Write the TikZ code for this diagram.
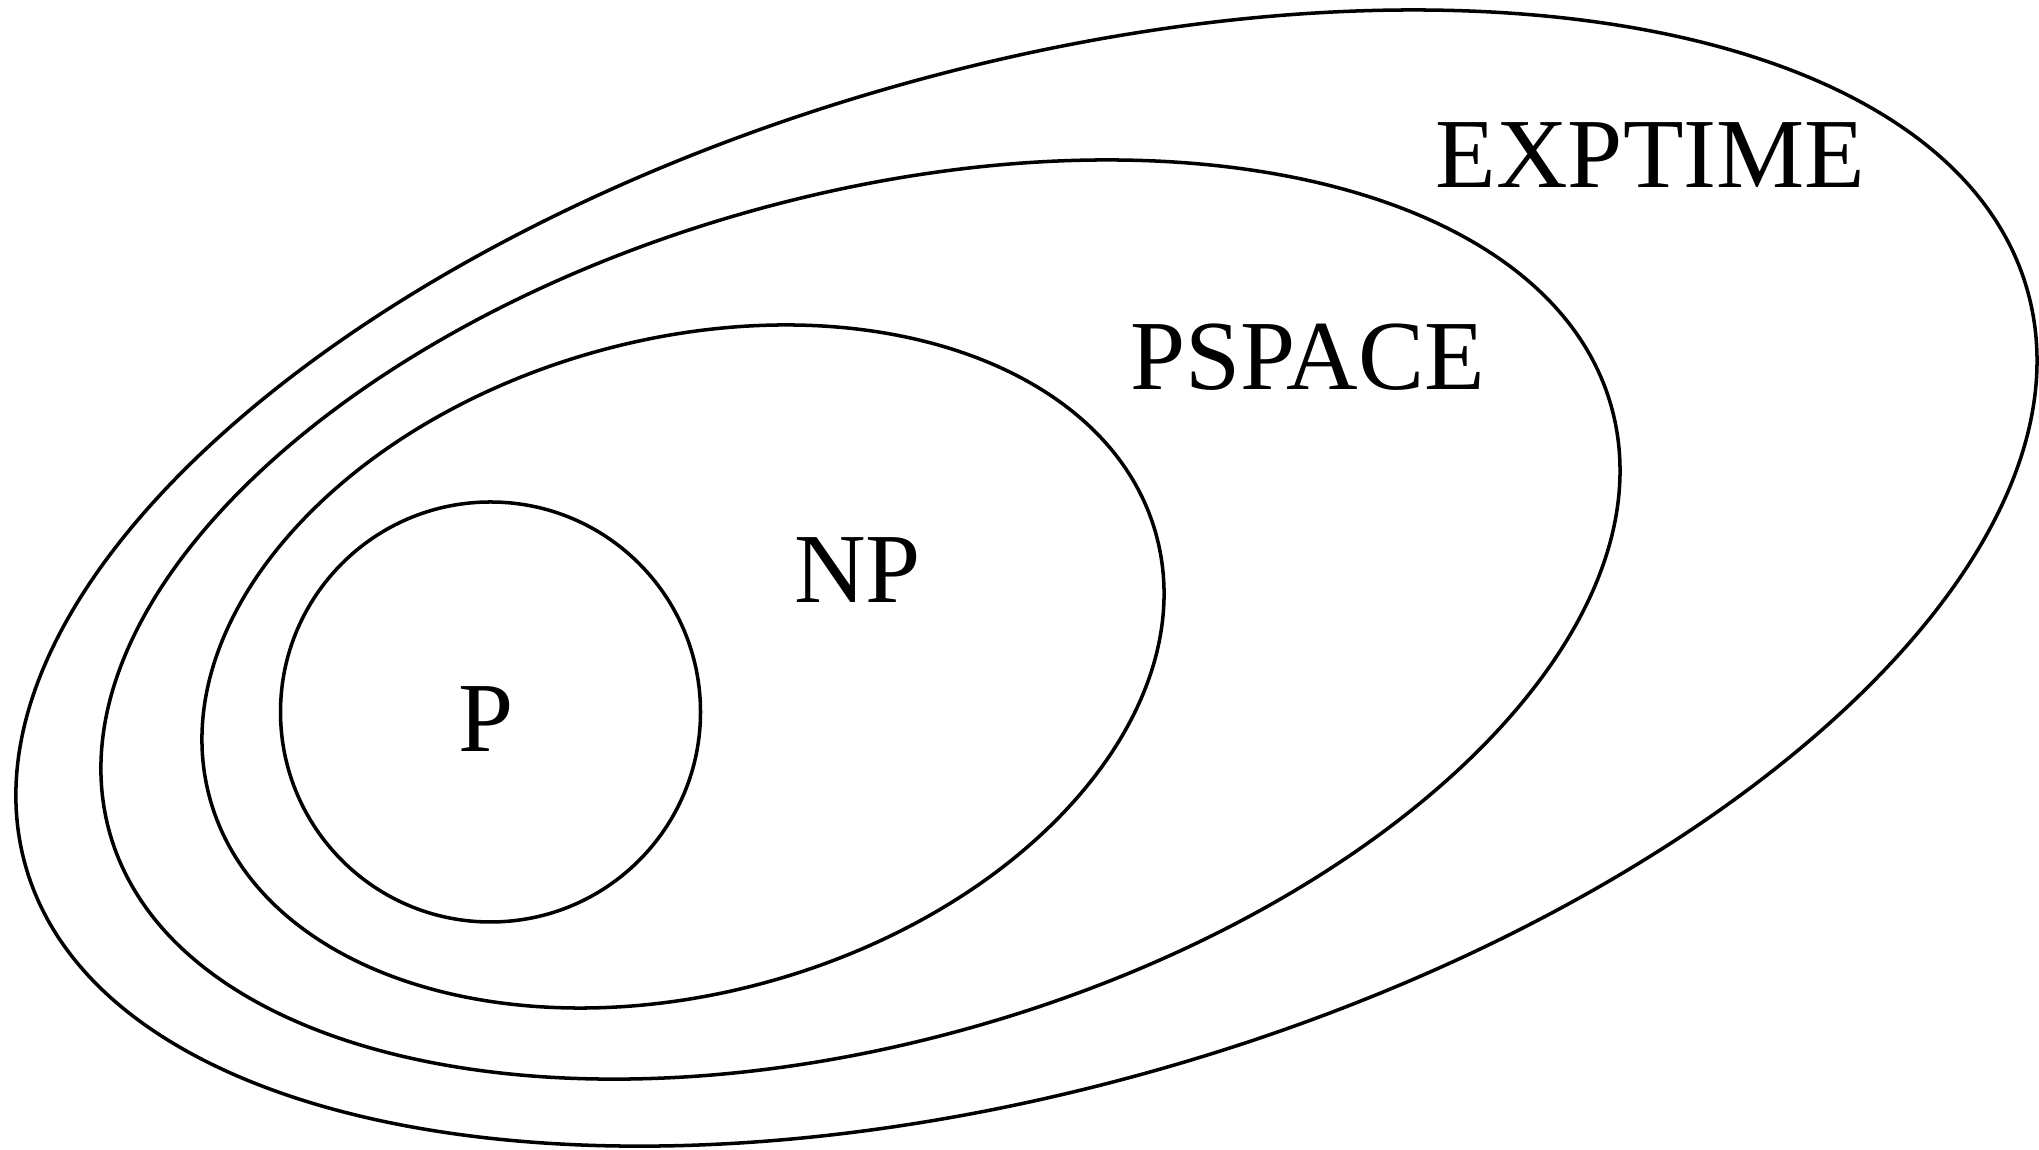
\documentclass[tikz,border=0pt]{standalone}
\usepackage{fontspec}
\setmainfont{Liberation Serif}
\begin{document}
\begin{tikzpicture}[
  setline/.style={draw=black, line width=1pt},
  setlabel/.style={anchor=base, inner sep=0pt, font=\fontsize{28.2}{34}\selectfont}
]
\useasboundingbox (0,0) rectangle (20.39,11.5);
% centres
\coordinate (cexp) at (10.265,5.72);
\coordinate (cps) at (8.605,5.305);
\coordinate (cnp) at (6.83,4.835);
\coordinate (cp) at (4.905,4.38);
% sets
\draw[setline, rotate around={16.12:(cexp)}] (cexp) ellipse [x radius=10.415, y radius=5.089];
\draw[setline, rotate around={15.92:(cps)}] (cps) ellipse [x radius=7.805, y radius=4.228];
\draw[setline, rotate around={15.76:(cnp)}] (cnp) ellipse [x radius=4.912, y radius=3.266];
\draw[setline] (cp) circle [radius=2.10];
% labels
\node[setlabel] (lexp) at (16.505,9.62) {EXPTIME};
\node[setlabel] (lps) at (13.075,7.60) {PSPACE};
\node[setlabel] (lnp) at (8.575,5.47) {NP};
\node[setlabel] (lp) at (4.865,3.98) {P};
\end{tikzpicture}
\end{document}
